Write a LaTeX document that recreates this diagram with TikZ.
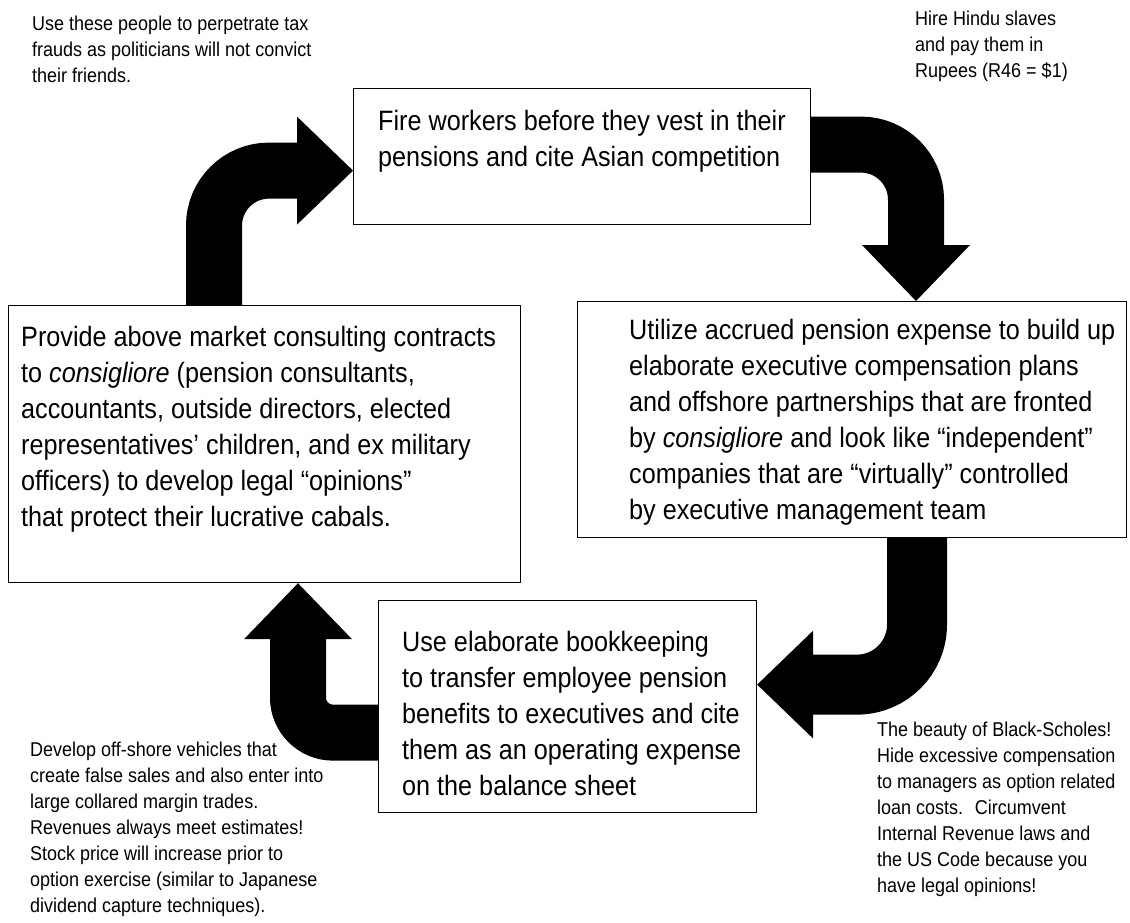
\documentclass[tikz,border=0pt]{standalone}
\usepackage{fontspec}
\setmainfont{Liberation Sans}[FakeStretch=0.9]
\usetikzlibrary{arrows.meta,positioning}

\begin{document}
\begin{tikzpicture}[
		x=1pt, y=-1pt,
		box/.style={draw, line width=1.2pt, fill=white, inner sep=0pt, anchor=north west},
		boxtext/.style={anchor=north west, align=left, inner sep=0pt, font=\fontsize{28}{36}\selectfont},
		note/.style={anchor=north west, align=left, inner sep=0pt, font=\fontsize{20}{26}\selectfont},
		fatarrow/.style={line width=#1, rounded corners=55pt, -{Triangle[width=108pt, length=56pt, line width=0pt]}},
		fatarrow/.default=56pt
	]

	\useasboundingbox (0,0) rectangle (1130,923);
	\fill[white] (0,0) rectangle (1130,923);

	% the four steps
	\node[box, minimum width=457pt, minimum height=136pt] (fire) at (353,88) {};
	\node[box, minimum width=549pt, minimum height=236pt] (utilize) at (577,301) {};
	\node[box, minimum width=512pt, minimum height=277pt] (provide) at (8,305) {};
	\node[box, minimum width=378pt, minimum height=212pt] (bookkeep) at (378,600) {};

	\node[boxtext] (firetext) at ([shift={(25pt,-22pt)}]fire.north west)
		{Fire workers before they vest in their\\
		pensions and cite Asian competition};
	\node[boxtext] (utilizetext) at ([shift={(52pt,-18pt)}]utilize.north west)
		{Utilize accrued pension expense to build up\\
		elaborate executive compensation plans\\
		and offshore partnerships that are fronted\\
		by \textit{consigliore} and look like “independent”\\
		companies that are “virtually” controlled\\
		by executive management team};
	\node[boxtext] (providetext) at ([shift={(13pt,-21pt)}]provide.north west)
		{Provide above market consulting contracts\\
		to \textit{consigliore} (pension consultants,\\
		accountants, outside directors, elected\\
		representatives’ children, and ex military\\
		officers) to develop legal “opinions”\\
		that protect their lucrative cabals.};
	\node[boxtext] (bookkeeptext) at ([shift={(24pt,-31pt)}]bookkeep.north west)
		{Use elaborate bookkeeping\\
		to transfer employee pension\\
		benefits to executives and cite\\
		them as an operating expense\\
		on the balance sheet};

	% the cycle
	\draw[fatarrow] ([xshift=206pt]provide.north west) |- ([yshift=-14pt]fire.west);
	\draw[fatarrow] ([yshift=12pt]fire.east) -| ([xshift=339pt]utilize.north west);
	\draw[fatarrow=60pt, rounded corners=60pt] ([xshift=340pt]utilize.south west) |- ([yshift=22pt]bookkeep.east);
	\draw[fatarrow, rounded corners=35pt] ([yshift=-26pt]bookkeep.west) -| ([xshift=290pt]provide.south west);

	% side remarks
	\node[note] (frauds) at (32,16)
		{Use these people to perpetrate tax\\
		frauds as politicians will not convict\\
		their friends.};
	\node[note] (slaves) at (915,11)
		{Hire Hindu slaves\\
		and pay them in\\
		Rupees (R46 = \$1)};
	\node[note] (offshore) at (30,742)
		{Develop off-shore vehicles that\\
		create false sales and also enter into\\
		large collared margin trades.\\
		Revenues always meet estimates!\\
		Stock price will increase prior to\\
		option exercise (similar to Japanese\\
		dividend capture techniques).};
	\node[note] (scholes) at (877,722)
		{The beauty of Black-Scholes!\\
		Hide excessive compensation\\
		to managers as option related\\
		loan costs.~ Circumvent\\
		Internal Revenue laws and\\
		the US Code because you\\
		have legal opinions!};

\end{tikzpicture}
\end{document}
